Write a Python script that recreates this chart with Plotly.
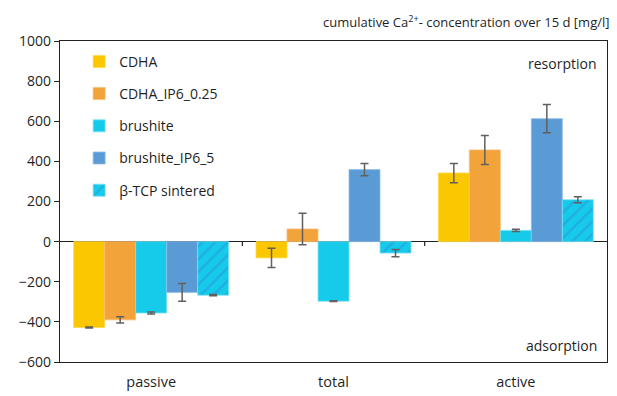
import plotly.graph_objects as go

categories = ["passive", "total", "active"]

series_names = ["CDHA", "CDHA_IP6_0.25", "brushite", "brushite_IP6_5", "β-TCP sintered"]
cdha = [-428, -81, 342]
cdha_ip6 = [-390, 63, 457]
brushite = [-356, -297, 56]
brushite_ip6 = [-253, 359, 613]
btcp = [-267, -57, 209]

cdha_err = [3, 48, 48]
cdha_ip6_err = [15, 78, 72]
brushite_err = [5, 2, 6]
brushite_ip6_err = [44, 31, 70]
btcp_err = [3, 18, 15]

values = [cdha, cdha_ip6, brushite, brushite_ip6, btcp]
errors = [cdha_err, cdha_ip6_err, brushite_err, brushite_ip6_err, btcp_err]
colors = ["#FAC700", "#F2A33A", "#16CBEA", "#5B9BD5", "#16CBEA"]
edge_colors = ["#FFD84D", "#F7BE73", "#7FE2F3", "#8FBCE6", "#7FE2F3"]

FONT = "Open Sans, Liberation Sans, sans-serif"

fig = go.Figure()
for i, (name, vals, errs) in enumerate(zip(series_names, values, errors)):
    marker = dict(color=colors[i], line=dict(color=edge_colors[i], width=0.8))
    if i == 4:
        marker["pattern"] = dict(shape="/", fgcolor="#2A95DE", bgcolor=colors[i],
                                 size=9, solidity=0.3)
    fig.add_trace(go.Bar(
        name=name, x=categories, y=vals, marker=marker,
        legendgroup=f"g{i}",
        error_y=dict(type="data", array=errs, color="#606060",
                     thickness=1.5, width=4),
    ))

# small separator ticks between categories on the zero line
for xb in (0.5, 1.5):
    fig.add_shape(type="line", x0=xb, x1=xb, y0=0, y1=-22, xref="x", yref="y",
                  line=dict(color="#222222", width=1.2))

fig.update_layout(
    width=617, height=396,
    margin=dict(l=60, r=10, t=41, b=34),
    paper_bgcolor="white", plot_bgcolor="white",
    barmode="group", bargap=0.15, bargroupgap=0,
    font=dict(family=FONT, size=14, color="#1f1f1f"),
    legend=dict(x=0.035, y=0.985, xanchor="left", yanchor="top",
                bgcolor="rgba(0,0,0,0)", font=dict(size=14),
                traceorder="grouped", tracegroupgap=11,
                itemwidth=30),
    showlegend=True,
    annotations=[
        dict(text="cumulative Ca<sup>2+</sup>- concentration over 15 d [mg/l]",
             xref="paper", yref="paper", x=1.0, y=1.0, xanchor="right",
             yanchor="bottom", yshift=8, xshift=5, showarrow=False,
             font=dict(size=13, color="#1f1f1f")),
        dict(text="resorption", xref="paper", yref="paper", x=0.985, y=0.93,
             xanchor="right", yanchor="middle", showarrow=False,
             font=dict(size=14)),
        dict(text="adsorption", xref="paper", yref="paper", x=0.985, y=0.05,
             xanchor="right", yanchor="middle", showarrow=False,
             font=dict(size=14)),
    ],
)

fig.update_yaxes(
    range=[-600, 1000], tickvals=list(range(-600, 1001, 200)),
    showgrid=False, zeroline=True, zerolinecolor="#222222", zerolinewidth=1.2,
    showline=True, linecolor="#222222", linewidth=1.2, mirror=True,
    ticks="outside", ticklen=5, tickcolor="#222222",
    tickfont=dict(size=14), automargin=False,
)
fig.update_xaxes(
    showgrid=False, showline=True, linecolor="#222222", linewidth=1.2,
    mirror=True, ticks="", tickfont=dict(size=14.5), ticklabelstandoff=6,
    automargin=False,
)

fig.write_html("out.html")
